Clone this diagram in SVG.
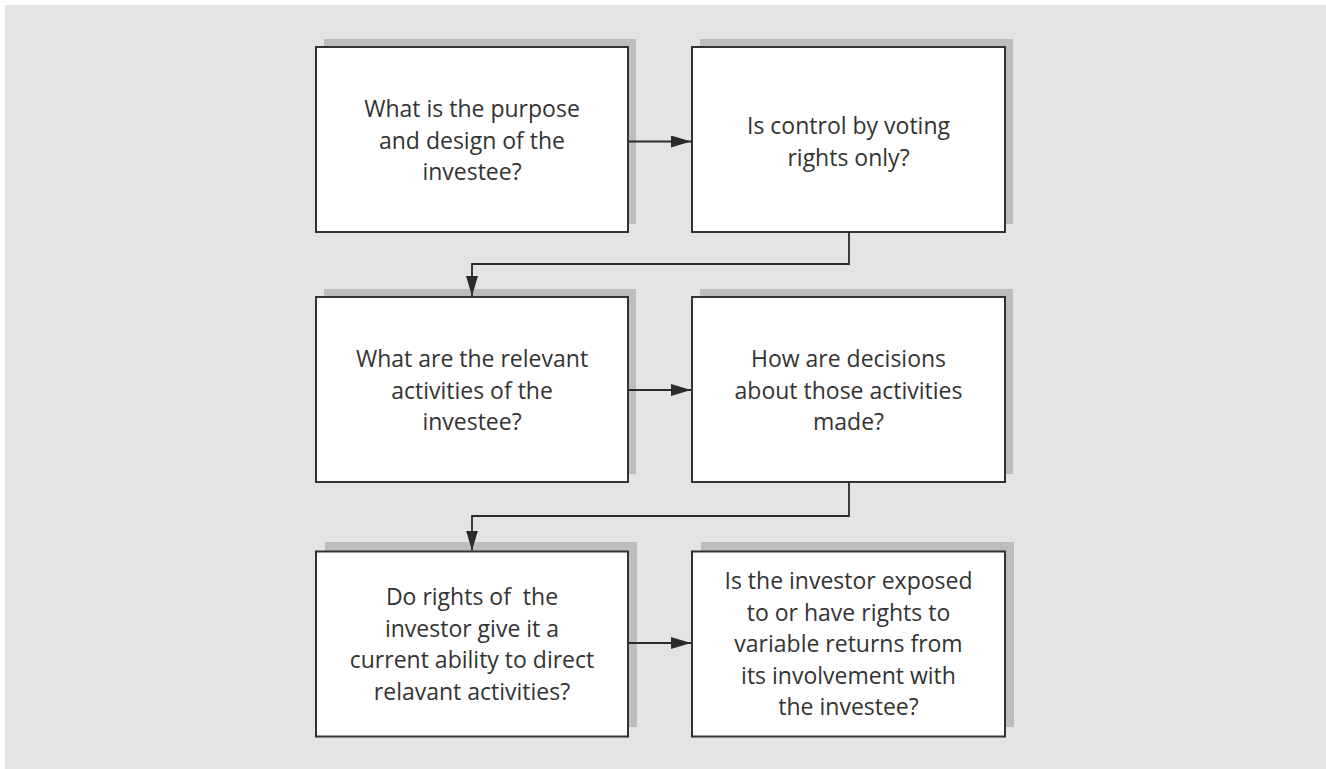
<svg xmlns="http://www.w3.org/2000/svg" width="1326" height="769" viewBox="0 0 1326 769">
  <style>
    .bg { fill: #e4e4e4; }
    .shadow { fill: #bdbdbd; }
    .box { fill: #ffffff; stroke: #333333; stroke-width: 2; }
    .label { font-family: "Open Sans", "Liberation Sans", sans-serif; font-size: 23px; fill: #333333; text-anchor: middle; white-space: pre; }
    .wire { fill: none; stroke: #2b2b2b; stroke-width: 1.8; }
  </style>
  <defs>
    <marker id="arrow" viewBox="0 0 20 12" refX="20" refY="6" markerWidth="20" markerHeight="12" markerUnits="userSpaceOnUse" orient="auto">
      <path d="M0,0 L20,6 L0,12 Z" fill="#2b2b2b"/>
    </marker>
  </defs>

  <rect x="0" y="0" width="1326" height="769" fill="#ffffff"/>
  <rect class="bg" x="5" y="5" width="1321" height="764"/>

  <!-- row 1 -->
  <g id="node-purpose">
    <rect class="shadow" x="324" y="39" width="312" height="185"/>
    <rect class="box" x="316" y="47" width="312" height="185"/>
    <text class="label" x="472" y="117">What is the purpose</text>
    <text class="label" x="472" y="148.5">and design of the</text>
    <text class="label" x="472" y="180">investee?</text>
  </g>
  <g id="node-voting">
    <rect class="shadow" x="700" y="39" width="313" height="185"/>
    <rect class="box" x="692" y="47" width="313" height="185"/>
    <text class="label" x="848.5" y="134">Is control by voting</text>
    <text class="label" x="848.5" y="165.5">rights only?</text>
  </g>

  <!-- row 2 -->
  <g id="node-activities">
    <rect class="shadow" x="324" y="289" width="312" height="185"/>
    <rect class="box" x="316" y="297" width="312" height="185"/>
    <text class="label" x="472" y="367">What are the relevant</text>
    <text class="label" x="472" y="398.5">activities of the</text>
    <text class="label" x="472" y="430">investee?</text>
  </g>
  <g id="node-decisions">
    <rect class="shadow" x="700" y="289" width="313" height="185"/>
    <rect class="box" x="692" y="297" width="313" height="185"/>
    <text class="label" x="848.5" y="367">How are decisions</text>
    <text class="label" x="848.5" y="398.5">about those activities</text>
    <text class="label" x="848.5" y="430">made?</text>
  </g>

  <!-- row 3 -->
  <g id="node-rights">
    <rect class="shadow" x="325" y="542" width="312" height="185"/>
    <rect class="box" x="316" y="551.5" width="312" height="185"/>
    <text class="label" x="472" y="605">Do rights of  the</text>
    <text class="label" x="472" y="636.5">investor give it a</text>
    <text class="label" x="472" y="668">current ability to direct</text>
    <text class="label" x="472" y="699.5">relavant activities?</text>
  </g>
  <g id="node-returns">
    <rect class="shadow" x="701" y="542" width="313" height="185"/>
    <rect class="box" x="692" y="551.5" width="313" height="185"/>
    <text class="label" x="848.5" y="589">Is the investor exposed</text>
    <text class="label" x="848.5" y="620.5">to or have rights to</text>
    <text class="label" x="848.5" y="652">variable returns from</text>
    <text class="label" x="848.5" y="683.5">its involvement with</text>
    <text class="label" x="848.5" y="715">the investee?</text>
  </g>

  <!-- connectors -->
  <g id="connectors">
    <path class="wire" d="M628,141.5 H691" marker-end="url(#arrow)"/>
    <path class="wire" d="M849,232 V264 H472 V296" marker-end="url(#arrow)"/>
    <path class="wire" d="M628,390 H691" marker-end="url(#arrow)"/>
    <path class="wire" d="M849,482 V516 H472 V550.5" marker-end="url(#arrow)"/>
    <path class="wire" d="M628,643 H691" marker-end="url(#arrow)"/>
  </g>
</svg>
